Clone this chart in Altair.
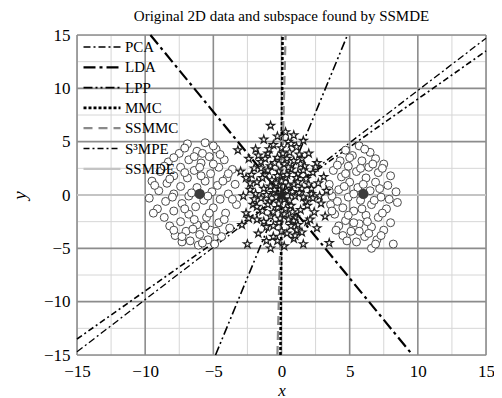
import altair as alt
import pandas as pd

TITLE = "Original 2D data and subspace found by SSMDE"

# ---- data ----
left_pts = [(-6.9,4.8),(-5.6,4.9),(-4.8,4.3),(-6.2,4.1),(-7.5,3.9),(-5.3,3.6),(-4.2,3.3),(-6.8,3.3),
            (-8.3,3.1),(-5.9,3.0),(-7.4,2.6),(-4.6,2.6),(-3.6,2.4),(-6.4,2.3),(-8.9,2.2),(-5.2,2.0),
            (-7.9,1.8),(-4.0,1.6),(-6.9,1.6),(-9.5,1.3),(-5.6,1.3),(-8.4,1.1),(-3.4,1.0),(-4.7,0.9),
            (-7.4,0.8),(-6.2,0.7),(-9.0,0.4),(-5.1,0.3),(-3.9,0.1),(-7.9,0.1),(-6.8,-0.1),(-9.7,-0.3),
            (-4.5,-0.4),(-5.7,-0.5),(-8.5,-0.6),(-7.3,-0.8),(-3.3,-0.9),(-6.3,-1.1),(-5.0,-1.2),(-9.1,-1.3),
            (-7.9,-1.5),(-4.1,-1.7),(-6.8,-1.8),(-8.6,-2.1),(-5.5,-2.1),(-7.4,-2.5),(-4.6,-2.6),(-6.2,-2.8),
            (-8.2,-2.9),(-3.8,-3.1),(-5.2,-3.3),(-7.0,-3.4),(-6.0,-3.7),(-4.4,-3.9),(-7.8,-3.8),(-5.4,-4.2),
            (-6.7,-4.3),(-4.9,-4.6),(-6.1,-4.7),(-7.3,-4.4),(-5.0,4.6),(-7.1,4.4),(-5.8,3.9),(-4.5,3.8),
            (-7.9,3.5),(-6.4,3.6),(-5.0,2.9),(-8.6,2.7),(-6.0,2.6),(-3.9,2.0),(-7.1,2.1),(-8.2,1.5),
            (-5.9,1.8),(-4.3,1.3),(-9.3,0.9),(-6.6,0.2),(-5.4,-0.1),(-8.0,-0.2),(-3.6,-0.4),(-7.1,-1.3),
            (-5.3,-1.7),(-9.4,-1.7),(-4.2,-2.3),(-6.4,-2.3),(-7.9,-3.3),(-4.8,-3.4),(-6.5,-3.2),(-5.6,-2.9),
            (-7.3,-3.9),(-5.8,-4.5)]

right_pts = [(5.7,4.6),(4.7,4.2),(6.5,4.0),(5.2,3.7),(6.9,3.4),(4.3,3.2),(5.9,3.2),(7.5,2.9),(4.9,2.7),
             (6.4,2.6),(3.8,2.3),(5.5,2.2),(7.1,2.1),(8.0,1.8),(4.4,1.7),(6.2,1.6),(5.0,1.2),(6.9,1.2),
             (3.5,1.0),(7.8,0.9),(5.6,0.7),(4.2,0.5),(6.5,0.4),(8.4,0.3),(3.7,-0.1),(4.9,-0.2),(7.3,-0.2),
             (5.8,-0.5),(8.5,-0.7),(3.6,-0.9),(6.6,-0.9),(4.5,-1.2),(7.7,-1.3),(5.3,-1.5),(3.9,-1.8),
             (6.2,-1.9),(7.1,-2.1),(4.7,-2.4),(5.7,-2.7),(8.0,-2.6),(4.2,-2.9),(6.6,-3.0),(7.5,-3.3),
             (5.1,-3.4),(4.5,-3.8),(6.1,-3.9),(7.0,-4.2),(5.5,-4.4),(6.6,-5.0),(8.2,-4.6),(6.1,4.3),
             (5.0,3.5),(6.7,2.9),(4.1,2.8),(5.8,2.5),(7.4,2.5),(4.7,2.0),(6.0,1.0),(7.2,0.6),(4.6,0.8),
             (5.3,0.1),(6.8,-0.5),(4.1,-0.6),(7.9,-0.4),(5.9,-1.3),(4.9,-1.9),(7.4,-1.7),(6.3,-2.5),
             (5.3,-2.6),(4.0,-3.3),(6.4,-3.6),(7.3,-3.8),(5.7,-3.4),(6.9,-4.6),(4.8,-4.3),(3.7,-1.5),(3.5,0.4)]

star_pts = [(-0.8,6.5),(0.3,5.9),(-0.3,5.5),(0.9,5.6),(-1.3,5.2),(0.5,5.0),(1.6,5.1),(-0.6,4.7),(0.0,4.4),
            (1.1,4.5),(-1.9,4.3),(-3.2,4.2),(0.6,4.0),(-1.0,3.9),(2.0,3.9),(1.5,3.4),(-0.3,3.5),(-2.4,3.4),
            (0.9,3.2),(-1.5,3.1),(2.6,3.0),(0.2,2.9),(-0.8,2.7),(1.7,2.7),(-2.0,2.5),(-3.0,2.2),(0.7,2.4),
            (-0.2,2.2),(2.3,2.1),(1.2,2.0),(-1.2,1.9),(3.1,1.7),(-2.6,1.6),(0.3,1.6),(1.8,1.5),(-0.7,1.4),
            (-1.8,1.2),(2.7,1.1),(0.9,1.0),(-0.2,0.9),(1.5,0.6),(-1.3,0.6),(-2.3,0.5),(3.3,0.4),(0.4,0.4),
            (-0.6,0.2),(2.2,0.1),(-2.8,-0.1),(1.0,-0.1),(-1.5,-0.3),(0.2,-0.4),(-0.9,-0.6),(1.8,-0.6),
            (2.9,-0.8),(-2.1,-0.9),(0.7,-1.0),(-0.3,-1.2),(1.4,-1.4),(-1.4,-1.5),(2.4,-1.6),(-2.6,-1.7),
            (0.2,-1.8),(-0.8,-2.0),(1.0,-2.1),(3.2,-2.0),(-1.8,-2.3),(1.9,-2.5),(-0.2,-2.6),(-2.9,-2.8),
            (0.7,-2.9),(-1.1,-3.0),(2.6,-3.1),(0.0,-3.4),(1.5,-3.5),(-1.7,-3.6),(-0.6,-3.9),(0.9,-4.1),
            (3.5,-4.5),(-2.5,-4.6),(0.2,-4.8),(-0.8,-5.0),(1.6,-4.6),(0.5,0.9),(-0.4,1.1),(1.1,1.6),
            (-1.0,2.3),(0.0,1.3),(0.6,-0.5),(-0.4,-0.2),(1.3,0.2),(-1.1,0.0),(0.1,0.0),(-0.6,-1.6),
            (0.8,-1.6),(1.9,-1.0),(-1.9,0.1),(2.0,1.0),(-1.5,2.5),(0.4,3.4),(1.4,2.9),(-0.5,3.0),
            (-0.1,-2.2),(1.2,-2.8),(-1.3,-2.5),(0.4,-3.6),(-2.2,1.9),(2.5,2.6),(-0.9,4.3),(0.7,4.8),
            (1.3,3.8),(-1.7,3.7),(2.8,-0.1),(-2.4,-2.2),(2.1,-2.3),(-0.3,-4.3),(1.1,-3.3),(0.4,1.9),
            (-0.8,0.8),(1.6,-0.2),(-1.8,-1.1),(-0.2,-0.8),(0.9,-2.4),(-0.5,0.5),(0.8,0.3),(-1.0,-0.9),
            (0.3,-1.3),(1.2,1.2),(-1.4,1.6),(0.5,2.6),(-0.3,1.8),(1.6,2.3),(-2.0,-0.4),(2.3,-0.3),
            (-0.6,-2.9),(0.5,-2.3),(-1.2,3.4),(0.1,3.9),(1.0,-3.8),(-1.1,-4.3),(2.2,0.6),(-2.3,1.1)]

circle_centers = [(-6.0, 0.1), (6.0, 0.1)]
star_center = [(0.0, 0.0)]

methods = ["PCA", "LDA", "LPP", "MMC", "SSMMC", "S³MPE", "SSMDE"]
dir_x = [1.0, 1.0, 1.0, 0.005, 0.02, 1.0, 1.0]
dir_y = [0.98, -1.56, 3.1, 1.0, 1.0, 0.90, 0.0]
line_colors = ["#000000", "#000000", "#000000", "#000000", "#8a8a8a", "#000000", "#c4c4c4"]
line_dashes = [[7, 3, 2, 3], [12, 4, 3, 4], [9, 3, 2, 3, 2, 3], [3, 2], [9, 6], [6, 3, 2, 3], [1, 0]]
line_widths = [1.3, 2.2, 1.6, 2.6, 2.2, 1.6, 2.2]

major_ticks = [-15, -10, -5, 0, 5, 10, 15]
minor_ticks = [-12.5, -7.5, -2.5, 2.5, 7.5, 12.5]

LIM = 15.0
FONT = "Liberation Serif"

# ---- tables ----
def pts_df(pts):
    return pd.DataFrame({"x": [p[0] for p in pts], "y": [p[1] for p in pts]})

rows = []
for i, (m, dx, dy) in enumerate(zip(methods, dir_x, dir_y)):
    t = min(LIM / abs(dx) if dx else 1e9, LIM / abs(dy) if dy else 1e9)
    rows.append({"method": m, "x": -t * dx, "y": -t * dy, "o": 0})
    rows.append({"method": m, "x": t * dx, "y": t * dy, "o": 1})
lines_df = pd.DataFrame(rows)

xs = alt.Scale(domain=[-LIM, LIM], nice=False, zero=False)
ys = alt.Scale(domain=[-LIM, LIM], nice=False, zero=False)

xaxis = alt.Axis(values=major_ticks, grid=False, ticks=False, domain=False, labelFont=FONT,
                 labelFontSize=17, labelColor="black", labelPadding=8, title="x",
                 titleFont=FONT, titleFontSize=17, titleFontStyle="italic", titleFontWeight="normal",
                 titleColor="black", titlePadding=3, labelFlush=False)
yaxis = alt.Axis(values=major_ticks, grid=False, ticks=False, domain=False, labelFont=FONT,
                 labelFontSize=17, labelColor="black", labelPadding=7, title="y",
                 titleFont=FONT, titleFontSize=19, titleFontStyle="italic", titleFontWeight="normal",
                 titleColor="black", titlePadding=14, labelFlush=False)

def X(f):
    return alt.X(f, scale=xs, axis=xaxis)

def Y(f):
    return alt.Y(f, scale=ys, axis=yaxis)

base = alt.Chart(pd.DataFrame({"v": minor_ticks}))
minor_v = base.mark_rule(color="#d6d6d6", strokeWidth=1).encode(x=X("v:Q"))
minor_h = base.mark_rule(color="#d6d6d6", strokeWidth=1).encode(y=Y("v:Q"))
base2 = alt.Chart(pd.DataFrame({"v": major_ticks}))
major_v = base2.mark_rule(color="#8c8c8c", strokeWidth=1.6).encode(x=X("v:Q"))
major_h = base2.mark_rule(color="#8c8c8c", strokeWidth=1.6).encode(y=Y("v:Q"))

leg = alt.Legend(orient="none", legendX=5, legendY=4.5, title=None, symbolType="stroke",
                 symbolSize=1369, labelFont=FONT, labelFontSize=15, labelColor="black",
                 clipHeight=15, rowPadding=4.3, labelOffset=3, padding=0)

lines = alt.Chart(lines_df).mark_line().encode(
    x=X("x:Q"),
    y=Y("y:Q"),
    order="o:Q",
    color=alt.Color("method:N", scale=alt.Scale(domain=methods, range=line_colors), legend=leg),
    strokeDash=alt.StrokeDash("method:N", scale=alt.Scale(domain=methods, range=line_dashes), legend=leg),
    strokeWidth=alt.StrokeWidth("method:N", scale=alt.Scale(type="ordinal", domain=methods, range=line_widths), legend=leg),
)

circles = alt.Chart(pd.concat([pts_df(left_pts), pts_df(right_pts)])).mark_point(
    shape="circle", filled=True, fill="white", stroke="#4a4a4a", strokeWidth=1, size=64, opacity=1
).encode(x=X("x:Q"), y=Y("y:Q"))

STAR = "M0,-1L0.2245,-0.309L0.951,-0.309L0.363,0.118L0.588,0.809L0,0.382L-0.588,0.809L-0.363,0.118L-0.951,-0.309L-0.2245,-0.309Z"
stars = alt.Chart(pts_df(star_pts)).mark_point(
    shape=STAR, filled=True, fill="white", stroke="#1e1e1e", strokeWidth=1.2, size=72, opacity=1
).encode(x=X("x:Q"), y=Y("y:Q"))

cc = alt.Chart(pts_df(circle_centers)).mark_point(
    shape="circle", filled=True, fill="#3c3c3c", stroke="#3c3c3c", size=70, opacity=1
).encode(x=X("x:Q"), y=Y("y:Q"))
sc = alt.Chart(pts_df(star_center)).mark_point(
    shape=STAR, filled=True, fill="#222222", stroke="#222222", size=110, opacity=1
).encode(x=X("x:Q"), y=Y("y:Q"))

chart = alt.layer(minor_v, minor_h, major_v, major_h, lines, circles, stars, cc, sc).properties(
    width=409, height=320,
    title=alt.TitleParams(TITLE, font=FONT, fontSize=15, fontWeight="normal", color="black",
                          anchor="middle", offset=2, frame="group"),
    autosize=alt.AutoSizeParams(type="none"),
    padding={"left": 69, "top": 27, "right": 8, "bottom": 43},
).configure_view(stroke="black", strokeWidth=1.5).configure(background="white")

chart.save("out.html", embed_options={"renderer": "svg", "actions": False})
